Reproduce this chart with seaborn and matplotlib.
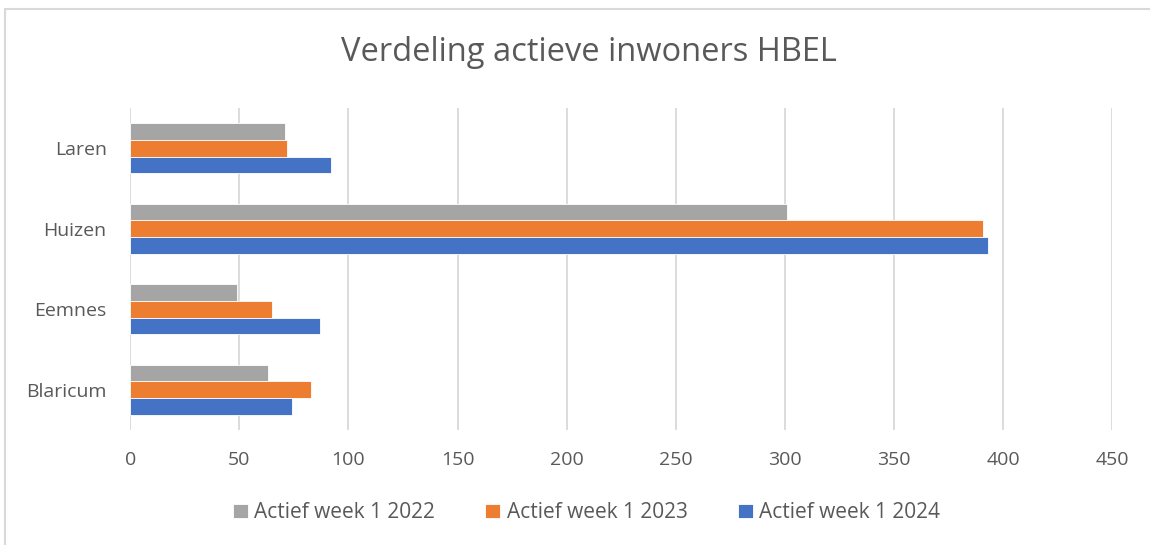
import pandas as pd
import matplotlib.pyplot as plt
import seaborn as sns
from matplotlib.patches import Rectangle

# Data
gemeenten = ['Laren', 'Huizen', 'Eemnes', 'Blaricum']
actief_2022 = [71, 301, 49, 63]
actief_2023 = [72, 391, 65, 83]
actief_2024 = [92, 393, 87, 74]
reeksen = ['Actief week 1 2022', 'Actief week 1 2023', 'Actief week 1 2024']
kleuren = ['#A5A5A5', '#ED7D31', '#4472C4']
x_ticks = [0, 50, 100, 150, 200, 250, 300, 350, 400, 450]

df = pd.DataFrame({
    'gemeente': gemeenten * 3,
    'reeks': [reeksen[0]] * 4 + [reeksen[1]] * 4 + [reeksen[2]] * 4,
    'waarde': actief_2022 + actief_2023 + actief_2024,
})

sns.set_theme(style='white')
plt.rcParams['font.family'] = ['Open Sans', 'DejaVu Sans']
tekst = '#595959'

fig = plt.figure(figsize=(11.5, 5.45), dpi=100)
ax = fig.add_axes([0.1133, 0.211, 0.8537, 0.5908])

sns.barplot(data=df, y='gemeente', x='waarde', hue='reeks', order=gemeenten,
            hue_order=reeksen, palette=kleuren, saturation=1, orient='h',
            width=0.62, edgecolor='white', linewidth=0.6, ax=ax)

ax.set_xlim(0, 450)
ax.set_xticks(x_ticks)
ax.xaxis.grid(True, color='#D9D9D9', linewidth=1.3)
ax.set_axisbelow(True)
for s in ax.spines.values():
    s.set_visible(False)
ax.tick_params(axis='both', length=0, labelsize=14, colors=tekst)
ax.tick_params(axis='x', pad=15)
ax.tick_params(axis='y', pad=17)
ax.set_xlabel('')
ax.set_ylabel('')

ax.legend_.remove()
handles, labels = ax.get_legend_handles_labels()
fig.legend(handles, labels, loc='center', bbox_to_anchor=(0.51, 0.059),
           ncol=3, frameon=False, fontsize=15, labelcolor=tekst,
           handlelength=0.72, handleheight=0.72, handletextpad=0.3,
           columnspacing=2.4)

fig.text(0.512, 0.903, 'Verdeling actieve inwoners HBEL', ha='center',
         va='center', fontsize=23.5, color=tekst)

# rand van het grafiekgebied
fig.patches.append(Rectangle((5 / 1150, -0.05), 1.2, 1.05 - 9 / 545,
                             transform=fig.transFigure, fill=False,
                             edgecolor='#D9D9D9', linewidth=1.5))

fig.savefig('out.png', dpi=100)
